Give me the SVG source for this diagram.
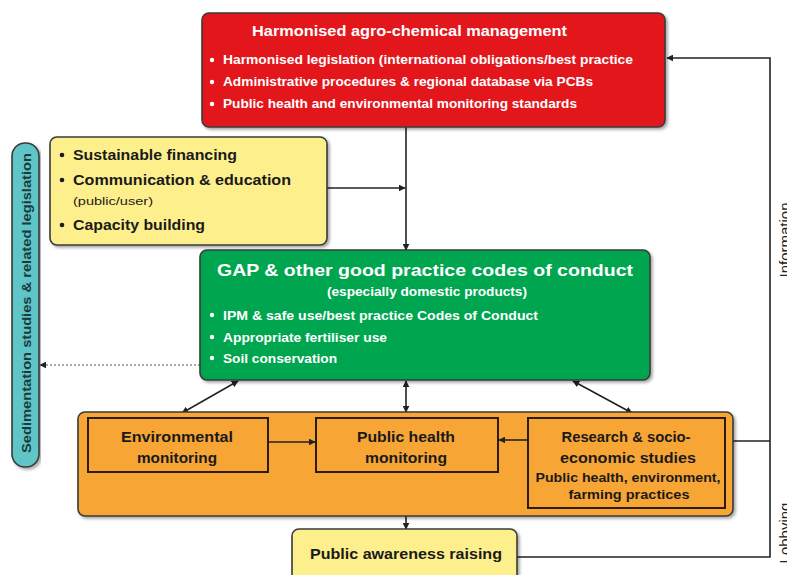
<svg xmlns="http://www.w3.org/2000/svg" width="787" height="575" viewBox="0 0 787 575">
<defs>
<filter id="sh" x="-5%" y="-5%" width="110%" height="115%">
<feDropShadow dx="2" dy="2" stdDeviation="1.5" flood-color="#000" flood-opacity="0.35"/>
</filter>
<marker id="ah" viewBox="0 0 10 10" refX="9" refY="5" markerWidth="7" markerHeight="7" orient="auto-start-reverse" markerUnits="userSpaceOnUse">
<path d="M0,0 L10,5 L0,10 z" fill="#222"/>
</marker>
</defs>
<style>
.box{stroke:#3a3a3a;stroke-width:1.6;filter:url(#sh)}
.inner{fill:none;stroke:#2b1d08;stroke-width:2}
.t{font-family:"Liberation Sans",Arial,sans-serif;font-weight:bold}
.w{fill:#fff}
.k{fill:#1a1a1a}
.c{text-anchor:middle}
.ln{fill:none;stroke:#222;stroke-width:1.6}
.lab{font-family:"Liberation Sans",Arial,sans-serif;font-size:15px;fill:#222}
</style>

<g id="connectors">
<line class="ln" x1="406" y1="127" x2="406" y2="250" marker-end="url(#ah)"/>
<line class="ln" x1="327" y1="188" x2="405" y2="188" marker-end="url(#ah)"/>
<line x1="200" y1="365" x2="40" y2="365" stroke="#555" stroke-width="1" stroke-dasharray="2,2" marker-end="url(#ah)"/>
<line class="ln" x1="238" y1="381" x2="182" y2="413" stroke-width="2" marker-start="url(#ah)" marker-end="url(#ah)"/>
<line class="ln" x1="406" y1="381" x2="406" y2="412" stroke-width="2" marker-start="url(#ah)" marker-end="url(#ah)"/>
<line class="ln" x1="573" y1="381" x2="632" y2="413" stroke-width="2" marker-start="url(#ah)" marker-end="url(#ah)"/>
<line class="ln" x1="406" y1="516" x2="406" y2="529" marker-end="url(#ah)"/>
<polyline class="ln" points="517,557 770,557 770,58 667,58" marker-end="url(#ah)"/>
<line class="ln" x1="733" y1="441" x2="770" y2="441"/>
<text class="lab" transform="translate(790,240) rotate(-90)" text-anchor="middle">Information</text>
<text class="lab" transform="translate(790,533) rotate(-90)" text-anchor="middle">Lobbying</text>
</g>

<g id="sedimentation">
<rect class="box" x="12" y="143" width="27" height="324" rx="13" fill="#5fc5c6"/>
<text class="t" transform="translate(31,303) rotate(-90)" text-anchor="middle" font-size="13" fill="#1b3a3d" font-weight="normal" textLength="300" lengthAdjust="spacingAndGlyphs">Sedimentation studies &amp; related legislation</text>
</g>

<g id="harmonised">
<rect class="box" x="202" y="13" width="463" height="114" rx="7" fill="#e3191f"/>
<text class="t w" x="252" y="36" font-size="15" textLength="315" lengthAdjust="spacingAndGlyphs">Harmonised agro-chemical management</text>
<g class="w"><circle cx="212" cy="60" r="2.2"/><circle cx="212" cy="82" r="2.2"/><circle cx="212" cy="104" r="2.2"/></g>
<text class="t w" x="223" y="64" font-size="12.5" textLength="410" lengthAdjust="spacingAndGlyphs">Harmonised legislation (international obligations/best  practice</text>
<text class="t w" x="223" y="86" font-size="12.5" textLength="370" lengthAdjust="spacingAndGlyphs">Administrative procedures &amp; regional database via PCBs</text>
<text class="t w" x="223" y="108" font-size="12.5" textLength="354" lengthAdjust="spacingAndGlyphs">Public health and environmental monitoring standards</text>
</g>

<g id="support">
<rect class="box" x="50" y="137" width="277" height="108" rx="7" fill="#fdf08c"/>
<g class="k"><circle cx="62" cy="155" r="2.3"/><circle cx="62" cy="180" r="2.3"/><circle cx="62" cy="225" r="2.3"/></g>
<text class="t k" x="73" y="160" font-size="14" textLength="164" lengthAdjust="spacingAndGlyphs">Sustainable financing</text>
<text class="t k" x="73" y="185" font-size="14" textLength="218" lengthAdjust="spacingAndGlyphs">Communication &amp; education</text>
<text class="k" x="73" y="205" font-family="Liberation Sans, Arial, sans-serif" font-size="11" textLength="80" lengthAdjust="spacingAndGlyphs">(public/user)</text>
<text class="t k" x="73" y="230" font-size="14" textLength="132" lengthAdjust="spacingAndGlyphs">Capacity building</text>
</g>

<g id="gap">
<rect class="box" x="200" y="250" width="450" height="130" rx="7" fill="#00a650"/>
<text class="t w" x="217" y="276" font-size="17" textLength="416" lengthAdjust="spacingAndGlyphs">GAP &amp; other good practice codes of conduct</text>
<text class="t w" x="327" y="296" font-size="12.5" textLength="200" lengthAdjust="spacingAndGlyphs">(especially domestic products)</text>
<g class="w"><circle cx="212" cy="315" r="2.2"/><circle cx="212" cy="337" r="2.2"/><circle cx="212" cy="358" r="2.2"/></g>
<text class="t w" x="223" y="320" font-size="13" textLength="315" lengthAdjust="spacingAndGlyphs">IPM &amp; safe use/best practice Codes of Conduct</text>
<text class="t w" x="223" y="342" font-size="13" textLength="164" lengthAdjust="spacingAndGlyphs">Appropriate fertiliser use</text>
<text class="t w" x="223" y="363" font-size="13" textLength="114" lengthAdjust="spacingAndGlyphs">Soil conservation</text>
</g>

<g id="monitoring-group">
<rect class="box" x="78" y="412" width="655" height="104" rx="7" fill="#f7a535"/>
</g>

<g id="environmental">
<rect class="inner" x="88" y="418" width="180" height="54"/>
<text class="t k c" x="177" y="442" font-size="15" textLength="112" lengthAdjust="spacingAndGlyphs">Environmental</text>
<text class="t k c" x="177" y="463" font-size="15" textLength="80" lengthAdjust="spacingAndGlyphs">monitoring</text>
</g>

<g id="public-health">
<rect class="inner" x="316" y="418" width="182" height="54"/>
<text class="t k c" x="406" y="442" font-size="15" textLength="98" lengthAdjust="spacingAndGlyphs">Public health</text>
<text class="t k c" x="406" y="463" font-size="15" textLength="82" lengthAdjust="spacingAndGlyphs">monitoring</text>
</g>

<g id="research">
<rect class="inner" x="528" y="418" width="197" height="90"/>
<text class="t k c" x="626" y="442" font-size="15" textLength="129" lengthAdjust="spacingAndGlyphs">Research &amp; socio-</text>
<text class="t k c" x="628" y="463" font-size="15" textLength="136" lengthAdjust="spacingAndGlyphs">economic studies</text>
<text class="t k c" x="628" y="482" font-size="13" textLength="185" lengthAdjust="spacingAndGlyphs">Public health, environment,</text>
<text class="t k c" x="629" y="499" font-size="13" textLength="121" lengthAdjust="spacingAndGlyphs">farming practices</text>
</g>

<g id="inner-arrows">
<line class="ln" x1="268" y1="442" x2="315" y2="442" marker-end="url(#ah)"/>
<line class="ln" x1="528" y1="440" x2="499" y2="440" marker-end="url(#ah)"/>
</g>

<g id="awareness">
<rect class="box" x="292" y="529" width="225" height="56" rx="7" fill="#fdf08c"/>
<text class="t k c" x="406" y="559" font-size="15" textLength="192" lengthAdjust="spacingAndGlyphs">Public awareness raising</text>
</g>
</svg>
